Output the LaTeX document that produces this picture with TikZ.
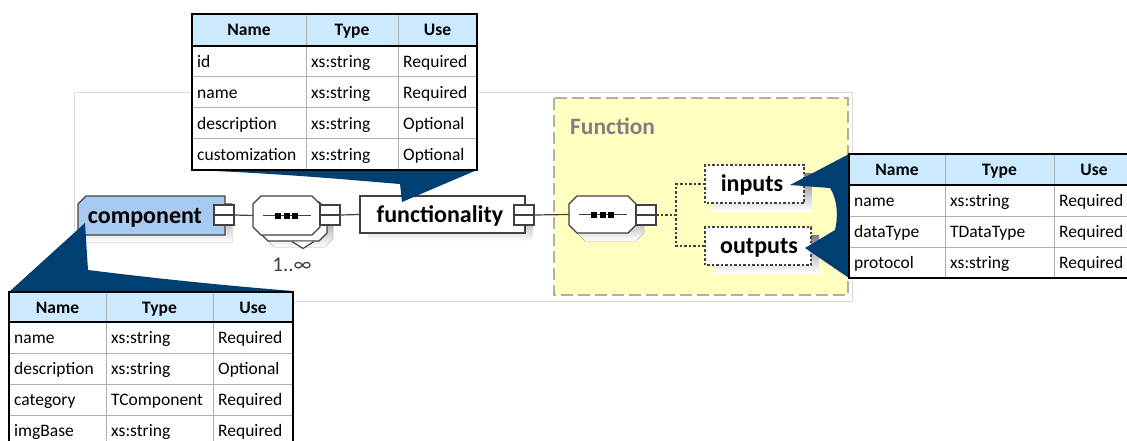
\documentclass[tikz,border=0pt]{standalone}
\usepackage{fontspec}
\setmainfont{Carlito}

\definecolor{elemblue}{RGB}{168,202,240}
\definecolor{hdrblue}{RGB}{204,234,255}
\definecolor{calloutblue}{RGB}{0,63,114}
\definecolor{funcfill}{RGB}{255,255,194}
\definecolor{funcline}{RGB}{176,176,160}
\definecolor{shade}{RGB}{192,192,192}
\definecolor{framegray}{RGB}{218,218,218}
\definecolor{edge}{RGB}{64,64,64}
\definecolor{gridgray}{RGB}{175,175,175}
\definecolor{titlegray}{RGB}{128,128,128}

% octagon (all four corners cut) around a node, chamfer #2, shifted by (#3,#4)
\newcommand{\octo}[4]{([xshift=#3+#2,yshift=#4]#1.north west) -- ([xshift=#3-#2,yshift=#4]#1.north east) -- ([xshift=#3,yshift=#4-#2]#1.north east) -- ([xshift=#3,yshift=#4+#2]#1.south east) -- ([xshift=#3-#2,yshift=#4]#1.south east) -- ([xshift=#3+#2,yshift=#4]#1.south west) -- ([xshift=#3,yshift=#4+#2]#1.south west) -- ([xshift=#3,yshift=#4-#2]#1.north west) -- cycle}
% rectangle with the top left corner cut
\newcommand{\nwcham}[4]{([xshift=#3+#2,yshift=#4]#1.north west) -- ([xshift=#3,yshift=#4]#1.north east) -- ([xshift=#3,yshift=#4]#1.south east) -- ([xshift=#3,yshift=#4]#1.south west) -- ([xshift=#3,yshift=#4-#2]#1.north west) -- cycle}
% plain rectangle shifted by (#2,#3)
\newcommand{\srect}[3]{([xshift=#2,yshift=#3]#1.south west) rectangle ([xshift=#2,yshift=#3]#1.north east)}

\tikzset{
  box/.style={rectangle, draw=none, inner sep=0pt, outer sep=0pt},
  outline/.style={draw=edge, line width=1.2pt},
  minusbox/.style={rectangle, draw=edge, fill=white, line width=1.2pt,
    minimum width=20pt, minimum height=20pt, inner sep=0pt, outer sep=0pt},
  conn/.style={draw=edge, line width=1.2pt},
  dotconn/.style={draw=edge, line width=1.2pt, dash pattern=on 2.5pt off 2pt},
  elemlabel/.style={font=\fontsize{24}{28}\selectfont\bfseries, inner sep=0pt, anchor=base},
  headtext/.style={font=\fontsize{17.5}{21}\selectfont\bfseries, inner sep=0pt, anchor=base},
  celltext/.style={font=\fontsize{17.5}{21}\selectfont, inner sep=0pt, anchor=base west},
  gridline/.style={draw=gridgray, line width=1pt},
  tableedge/.style={draw=black, line width=1.6pt},
  callout/.style={fill=calloutblue}
}

% attribute table: #1 prefix, #2..#5 column edges, #6 top, #7 header bottom,
% #8 number of rows, #9 rows as name/type/use
\newcommand{\attrtable}[9]{%
  \pgfmathsetmacro{\tbbot}{#7+31*#8}%
  \fill[hdrblue] (#2,#6) rectangle (#5,#7);
  \fill[white] (#2,#7) rectangle (#5,\tbbot);
  \foreach \k in {1,...,#8}{\draw[gridline] (#2,{#7+31*\k}) -- (#5,{#7+31*\k});}
  \draw[gridline] (#3,#6) -- (#3,\tbbot) (#4,#6) -- (#4,\tbbot);
  \draw[tableedge] (#2,#7) -- (#5,#7);
  \draw[tableedge] (#2,#6) rectangle (#5,\tbbot);
  \node[headtext] (#1-hname) at ({(#2+#3)/2},{(#6+#7)/2+6}) {Name};
  \node[headtext] (#1-htype) at ({(#3+#4)/2},{(#6+#7)/2+6}) {Type};
  \node[headtext] (#1-huse)  at ({(#4+#5)/2},{(#6+#7)/2+6}) {Use};
  \foreach \cN/\cT/\cU [count=\i] in {#9}{%
    \node[celltext] (#1-\i-name) at ({#2+5},{#7+31*\i-9.5}) {\cN};
    \node[celltext] (#1-\i-type) at ({#3+5},{#7+31*\i-9.5}) {\cT};
    \node[celltext] (#1-\i-use)  at ({#4+5},{#7+31*\i-9.5}) {\cU};
  }%
}

\begin{document}
\begin{tikzpicture}[x=1pt,y=-1pt]
\useasboundingbox (0,0) rectangle (1127,441);

% outer frame of the schema view
\draw[framegray, line width=1pt] (74,93) rectangle (852,301);

% Function group
\draw[fill=funcfill, draw=funcline, line width=1.8pt, dash pattern=on 12pt off 5pt] (554,98) rectangle (848,295);
\node[font=\fontsize{23.5}{27}\selectfont\bfseries, text=titlegray, inner sep=0pt, anchor=base west] (functitle) at (570,135) {Function};

% ---- component element
\node[box, minimum width=147pt, minimum height=39pt] (component) at (151.5,215.5) {};
\fill[shade] \nwcham{component}{8}{7}{-7};
\filldraw[outline, fill=elemblue] \nwcham{component}{8}{0}{0};
\node[elemlabel] (component-text) at (145,223) {component};
\node[minusbox] (component-m) at (224,215) {};
\draw[conn] (component-m.west) -- (component-m.east);

% ---- repeated sequence compositor
\node[box, minimum width=67pt, minimum height=39pt] (seqa) at (286.5,215.5) {};
\fill[shade] \octo{seqa}{8}{13}{-12};
\filldraw[outline, fill=white] \octo{seqa}{8}{7}{-6};
\filldraw[outline, fill=white] (292,241.5) -- (303,248.5) -- (314,241.5);
\filldraw[outline, fill=white] \octo{seqa}{8}{0}{0};
\draw[conn] ([xshift=-24]seqa.center) -- ([xshift=24]seqa.center);
\foreach \dx in {-8.5,0,8.5}
  \fill[black] ([xshift=\dx-3,yshift=-3]seqa.center) rectangle ([xshift=\dx+3,yshift=3]seqa.center);
\node[minusbox] (seqa-m) at (330,215) {};
\draw[conn] (seqa-m.west) -- (seqa-m.east);
\node[font=\fontsize{21}{25}\selectfont, text=edge, inner sep=0pt, anchor=base] (seqa-occ) at (292,271) {1..∞};

% ---- functionality element
\node[box, minimum width=165pt, minimum height=37pt] (functionality) at (442.5,214.5) {};
\fill[shade] \srect{functionality}{8}{-8};
\filldraw[outline, fill=white] \srect{functionality}{0}{0};
\node[elemlabel] (functionality-text) at (440,222.5) {functionality};
\node[minusbox] (functionality-m) at (524,215) {};
\draw[conn] (functionality-m.west) -- (functionality-m.east);

% ---- sequence compositor inside Function
\node[box, minimum width=67pt, minimum height=37pt] (seqb) at (602.5,214.5) {};
\fill[shade] \octo{seqb}{8}{8}{-8};
\filldraw[outline, fill=white] \octo{seqb}{8}{0}{0};
\draw[conn] ([xshift=-24]seqb.center) -- ([xshift=24]seqb.center);
\foreach \dx in {-8.5,0,8.5}
  \fill[black] ([xshift=\dx-3,yshift=-3]seqb.center) rectangle ([xshift=\dx+3,yshift=3]seqb.center);
\node[minusbox] (seqb-m) at (646,215) {};
\draw[conn] (seqb-m.west) -- (seqb-m.east);

% ---- inputs / outputs elements
\node[box, minimum width=99pt, minimum height=38pt] (inputs) at (754.5,184) {};
\fill[shade] \srect{inputs}{8}{-8};
\filldraw[fill=white, draw=edge, line width=1.2pt, dash pattern=on 2.5pt off 2pt] \srect{inputs}{0}{0};
\node[elemlabel] (inputs-text) at (752,191.5) {inputs};

\node[box, minimum width=106pt, minimum height=38pt] (outputs) at (758,246) {};
\fill[shade] \srect{outputs}{8}{-8};
\filldraw[fill=white, draw=edge, line width=1.2pt, dash pattern=on 2.5pt off 2pt] \srect{outputs}{0}{0};
\node[elemlabel] (outputs-text) at (759,253) {outputs};

% ---- connectors
\coordinate (fork) at (676,215);
\draw[conn] (component-m.east) -- (seqa.west);
\draw[conn] (seqa-m.east) -- (functionality.west);
\draw[conn] (functionality-m.east) -- (seqb.west);
\draw[dotconn] (seqb-m.east) -- (fork);
\draw[dotconn] (inputs.west) -| (fork) |- (outputs.west);

% ---- callouts
\fill[callout] (192,170) .. controls (290,174) and (350,180) .. (400,184) -- (402,202) -- (477,170) -- cycle;
\fill[callout] (9,292) -- (85,223) -- (88,270) .. controls (160,279) and (230,286) .. (293,291) -- cycle;
\fill[callout] (849,154) -- (790,185) -- (830,188) .. controls (838,200) and (838,218) .. (835,230) -- (805,248) -- (849,278) -- cycle;

% ---- attribute tables
\attrtable{functab}{192}{306}{398}{477}{14}{46}{4}{id/xs:string/Required, name/xs:string/Required, description/xs:string/Optional, customization/xs:string/Optional}
\attrtable{comptab}{9}{106}{213}{293}{292}{322}{4}{name/xs:string/Required, description/xs:string/Optional, category/TComponent/Required, imgBase/xs:string/Required}
\attrtable{iotab}{849}{945}{1054}{1134}{154}{185}{3}{name/xs:string/Required, dataType/TDataType/Required, protocol/xs:string/Required}

\end{tikzpicture}
\end{document}
